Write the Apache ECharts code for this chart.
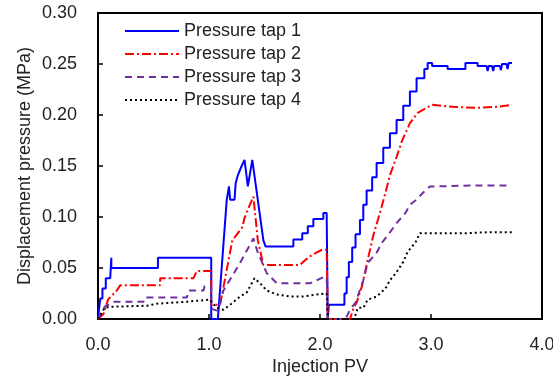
<!DOCTYPE html>
<html>
<head>
<meta charset="utf-8">
<script src="https://cdn.jsdelivr.net/npm/echarts@6/dist/echarts.min.js"></script>
<style>
  html, body { margin: 0; padding: 0; background: #fff; }
  #chart { width: 553px; height: 378px; }
</style>
</head>
<body>
<div id="chart"></div>
<script>
// series names
const seriesNames = ['Pressure tap 1', 'Pressure tap 2', 'Pressure tap 3', 'Pressure tap 4'];

// [Injection PV, displacement pressure (MPa)]
const tap1 = [
  [0.00,0.000],[0.01,0.000],[0.02,0.020],[0.04,0.020],[0.04,0.030],[0.07,0.030],[0.07,0.040],[0.11,0.040],
  [0.12,0.060],[0.12,0.050],[0.54,0.050],[0.54,0.060],[1.02,0.060],[1.02,0.000],[1.08,0.000],
  [1.16,0.117],[1.18,0.130],[1.19,0.117],[1.23,0.117],[1.24,0.133],[1.26,0.141],[1.29,0.149],[1.32,0.156],
  [1.35,0.130],[1.36,0.130],[1.39,0.156],[1.40,0.156],[1.49,0.077],[1.51,0.071],[1.76,0.071],[1.76,0.078],
  [1.84,0.078],[1.84,0.084],[1.89,0.084],[1.89,0.091],[1.94,0.091],[1.94,0.098],[2.03,0.098],[2.03,0.104],
  [2.06,0.104],[2.07,0.000],[2.08,0.014],[2.22,0.014],[2.22,0.025],[2.24,0.025],[2.24,0.041],[2.26,0.041],
  [2.26,0.056],[2.29,0.056],[2.29,0.070],[2.32,0.070],[2.32,0.083],[2.36,0.083],[2.36,0.097],[2.39,0.097],
  [2.39,0.112],[2.42,0.112],[2.42,0.126],[2.47,0.126],[2.47,0.139],[2.51,0.139],[2.51,0.153],[2.57,0.153],
  [2.57,0.168],[2.63,0.168],[2.63,0.182],[2.69,0.182],[2.69,0.195],[2.75,0.195],[2.75,0.209],[2.81,0.209],
  [2.81,0.223],[2.87,0.223],[2.87,0.236],[2.94,0.236],[2.94,0.245],[2.97,0.245],[2.97,0.251],[3.01,0.251],
  [3.01,0.248],[3.15,0.248],[3.15,0.245],[3.31,0.245],[3.31,0.251],[3.42,0.251],[3.42,0.248],[3.50,0.248],
  [3.51,0.243],[3.52,0.248],[3.55,0.248],[3.56,0.243],[3.57,0.248],[3.62,0.248],[3.63,0.244],[3.64,0.250],
  [3.68,0.250],[3.69,0.245],[3.70,0.251],[3.73,0.251]
];
const tap2 = [
  [0.00,0.000],[0.05,0.005],[0.09,0.019],[0.17,0.028],[0.20,0.033],[0.56,0.033],[0.56,0.040],[0.86,0.040],
  [0.89,0.047],[1.02,0.047],[1.02,0.014],[1.10,0.014],[1.21,0.077],[1.30,0.090],[1.32,0.099],[1.36,0.110],
  [1.40,0.120],[1.44,0.077],[1.49,0.053],[1.82,0.053],[1.87,0.058],[1.93,0.063],[2.02,0.068],[2.06,0.068],
  [2.07,0.000],[2.27,0.000],[2.30,0.010],[2.33,0.016],[2.38,0.033],[2.43,0.058],[2.48,0.082],[2.54,0.104],
  [2.59,0.124],[2.63,0.141],[2.69,0.159],[2.74,0.175],[2.81,0.192],[2.88,0.202],[2.96,0.207],[3.01,0.210],
  [3.20,0.208],[3.40,0.207],[3.60,0.208],[3.73,0.210]
];
const tap3 = [
  [0.00,0.000],[0.03,0.005],[0.06,0.012],[0.15,0.017],[0.41,0.017],[0.42,0.021],[0.80,0.021],[0.82,0.028],
  [0.95,0.028],[0.96,0.032],[1.02,0.032],[1.02,0.010],[1.08,0.008],[1.13,0.028],[1.28,0.055],[1.32,0.063],
  [1.40,0.079],[1.44,0.065],[1.48,0.055],[1.52,0.045],[1.61,0.035],[1.91,0.035],[1.97,0.038],[2.03,0.041],
  [2.06,0.041],[2.07,0.000],[2.23,0.000],[2.27,0.009],[2.32,0.016],[2.39,0.038],[2.43,0.055],[2.51,0.065],
  [2.56,0.075],[2.63,0.085],[2.69,0.094],[2.77,0.104],[2.81,0.112],[2.87,0.117],[2.93,0.124],[2.99,0.130],
  [3.05,0.130],[3.40,0.131],[3.70,0.131]
];
const tap4 = [
  [0.00,0.000],[0.02,0.004],[0.06,0.011],[0.11,0.012],[0.44,0.013],[0.53,0.015],[0.80,0.017],[1.01,0.019],
  [1.02,0.017],[1.07,0.011],[1.13,0.009],[1.19,0.014],[1.28,0.022],[1.34,0.026],[1.41,0.040],[1.46,0.035],
  [1.52,0.028],[1.61,0.024],[1.73,0.022],[1.85,0.022],[1.97,0.024],[2.04,0.025],[2.06,0.025],[2.07,0.000],
  [2.30,0.000],[2.32,0.004],[2.34,0.011],[2.39,0.011],[2.43,0.019],[2.51,0.022],[2.59,0.030],[2.63,0.038],
  [2.69,0.046],[2.75,0.056],[2.79,0.066],[2.86,0.075],[2.90,0.084],[3.02,0.084],[3.30,0.084],[3.50,0.085],
  [3.73,0.085]
];

const colors = ['#0000ff', '#ff0000', '#7030a0', '#000000'];
const dashes = ['solid', [9, 3, 2, 3], [7, 5], [2, 3]];
const allData = [tap1, tap2, tap3, tap4];

const font = '"Liberation Sans", Arial, sans-serif';
const chart = echarts.init(document.getElementById('chart'));

const option = {
  animation: false,
  backgroundColor: '#fff',
  grid: {
    left: 98, right: 11, top: 13, bottom: 59,
    outerBoundsMode: 'none',
    show: true, borderColor: '#000', borderWidth: 2
  },
  legend: {
    orient: 'vertical',
    left: 119,
    top: 17,
    itemWidth: 54,
    itemHeight: 12,
    itemGap: 5,
    selectedMode: false,
    itemStyle: { opacity: 0 },
    textStyle: { fontFamily: font, fontSize: 18, color: '#222', lineHeight: 18 },
    data: seriesNames
  },
  xAxis: {
    type: 'value',
    min: 0, max: 4, interval: 1,
    name: 'Injection PV',
    nameLocation: 'middle',
    nameGap: 39,
    nameMoveOverlap: false,
    nameTextStyle: { fontFamily: font, fontSize: 18, color: '#222' },
    axisLine: { lineStyle: { color: '#000', width: 2 } },
    axisTick: { inside: true, length: 5, lineStyle: { color: '#000', width: 1.5 } },
    axisLabel: { margin: 17, fontFamily: font, fontSize: 18, color: '#222', formatter: v => v.toFixed(1) },
    splitLine: { show: false }
  },
  yAxis: {
    type: 'value',
    min: 0, max: 0.3, interval: 0.05,
    name: 'Displacement pressure (MPa)',
    nameLocation: 'middle',
    nameGap: 64,
    nameMoveOverlap: false,
    nameTextStyle: { fontFamily: font, fontSize: 18, color: '#222' },
    axisLine: { lineStyle: { color: '#000', width: 2 } },
    axisTick: { inside: true, length: 5, lineStyle: { color: '#000', width: 1.5 } },
    axisLabel: { margin: 21, fontFamily: font, fontSize: 18, color: '#222', formatter: v => v.toFixed(2) },
    splitLine: { show: false }
  },
  series: allData.map((d, i) => ({
    name: seriesNames[i],
    type: 'line',
    data: d,
    symbol: 'none',
    showSymbol: false,
    clip: true,
    lineStyle: { color: colors[i], width: 2, type: dashes[i] },
    itemStyle: { color: colors[i] }
  }))
};

chart.setOption(option);
</script>
</body>
</html>
